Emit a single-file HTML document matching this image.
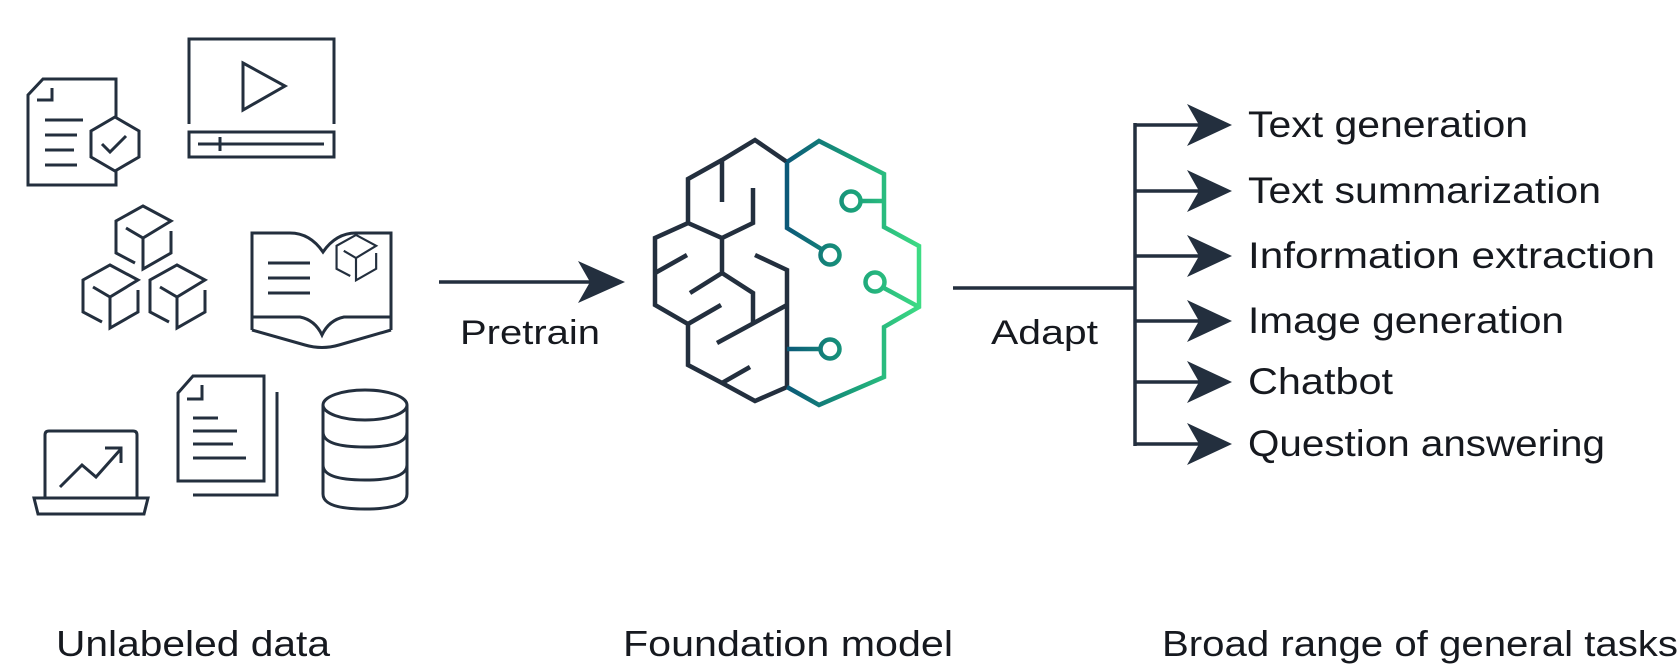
<!DOCTYPE html>
<html><head><meta charset="utf-8"><style>
html,body{margin:0;padding:0;background:#fff;width:1680px;height:668px;overflow:hidden}
svg{display:block}
text{font-family:"Liberation Sans",sans-serif;fill:#16191f}
</style></head><body>
<svg width="1680" height="668" viewBox="0 0 1680 668" xmlns="http://www.w3.org/2000/svg">
<defs>
<linearGradient id="g" gradientUnits="userSpaceOnUse" x1="787" y1="0" x2="920" y2="0">
<stop offset="0" stop-color="#0b5878"/><stop offset="0.5" stop-color="#1aa07a"/><stop offset="1" stop-color="#3ddc84"/>
</linearGradient>
<g id="cube" fill="none" stroke="#232f3e" stroke-width="3" stroke-linejoin="miter">
<path d="M-17,-10 L0,0 L28,-17 L0,-32 L-27,-17 L-27,15 L-8,25"/>
<path d="M0,0 L0,31 L28,15 L28,-7"/>
</g>
</defs>

<!-- Icons -->
<g fill="none" stroke="#232f3e" stroke-width="3">
  <path d="M116,117 L116,79 L43,79 L28,95 L28,185 L116,185 L116,171"/>
  <path d="M37,100 L52,100 L52,88"/>
  <path d="M45,120 H83 M45,135 H77 M45,150 H74 M45,165 H77"/>
  <polygon points="115,117 139,131 139,157 115,171 91,157 91,131"/>
  <path d="M102,144 L110,152 L126,136"/>
  <path d="M189,124 V39 H334 V124"/>
  <rect x="189" y="132" width="145" height="25"/>
  <path d="M198,144 H324 M220,137 V151"/>
  <polygon points="243,63 285,86 243,110"/>
  <path d="M252,330 V233 H290 Q310,233 323,252 Q336,233 356,233 H391 V330"/>
  <path d="M252,317 H300 Q315,320 322,335 Q329,320 344,317 H391"/>
  <path d="M252,330 L305,345 Q322,350 339,345 L391,330"/>
  <path d="M268,263 H310 M268,278 H310 M268,293 H310"/>
  <path d="M45,498 V435 Q45,431 49,431 H133 Q137,431 137,435 V498"/>
  <path d="M34,498 H148 L144,514 H38 Z"/>
  <path d="M60,487 L82,465 L96,477 L120,450 M105,448 H121 V463"/>
  <path d="M178,393 L193,376 H264 V481 H178 Z"/>
  <path d="M187,399 H202 V385"/>
  <path d="M277,392 V495 H193"/>
  <path d="M193,418 H218 M193,431 H237 M193,444 H233 M193,458 H246"/>
  <ellipse cx="365" cy="405" rx="42" ry="15"/>
  <path d="M323,405 V494 Q323,509 365,509 Q407,509 407,494 V405"/>
  <path d="M323,432 Q323,447 365,447 Q407,447 407,432"/>
  <path d="M323,465 Q323,480 365,480 Q407,480 407,465"/>
</g>
<use href="#cube" x="143" y="238"/>
<use href="#cube" x="110" y="297"/>
<use href="#cube" x="177" y="297"/>
<g transform="translate(356,258) scale(0.72)"><use href="#cube"/></g>

<line x1="439" y1="282" x2="590" y2="282" stroke="#232f3e" stroke-width="3.5"/>
<polygon points="578,261 625,282 578,303 590,282" fill="#232f3e"/>
<text x="460" y="344" font-size="34" textLength="140" lengthAdjust="spacingAndGlyphs">Pretrain</text>

<g fill="none" stroke="#232f3e" stroke-width="4.5" stroke-linejoin="miter">
  <path d="M787,162 L755,140 L722,160 L688,179 L688,223 L655,238 L655,305 L688,324 L688,365 L722,383 L755,401 L787,387 V270 L755,255"/>
  <path d="M722,160 V202"/>
  <path d="M753,188 V223 L722,238 L688,223"/>
  <path d="M722,238 V273 L690,293"/>
  <path d="M722,273 L753,293 V322"/>
  <path d="M787,305 L717,343"/>
  <path d="M655,273 L687,255"/>
  <path d="M688,324 L721,305"/>
  <path d="M722,383 L750,367"/>
</g>
<g fill="none" stroke="url(#g)" stroke-width="4.5">
  <path d="M787,162 L819,141 L884,174 V227 L919,246 V307 L884,327 V377 L819,405 L787,387"/>
  <path d="M787,162 V228 L823,250"/>
  <circle cx="830" cy="255" r="9.5"/>
  <circle cx="851" cy="201" r="9.5"/>
  <path d="M861,201 H884"/>
  <circle cx="875" cy="282" r="9.5"/>
  <path d="M884,288 L919,307"/>
  <circle cx="830" cy="349" r="9.5"/>
  <path d="M787,349 H820"/>
</g>

<line x1="953" y1="288" x2="1135" y2="288" stroke="#232f3e" stroke-width="3.5"/>
<text x="991" y="344" font-size="34" textLength="107" lengthAdjust="spacingAndGlyphs">Adapt</text>
<g stroke="#232f3e" stroke-width="3.5" fill="none">
  <line x1="1135" y1="123" x2="1135" y2="446"/>
  <path d="M1135,125 H1200 M1135,191 H1200 M1135,256 H1200 M1135,321 H1200 M1135,382 H1200 M1135,444 H1200"/>
</g>
<g fill="#232f3e">
  <polygon points="1187,104 1232,125 1187,146 1199,125"/>
  <polygon points="1187,170 1232,191 1187,212 1199,191"/>
  <polygon points="1187,235 1232,256 1187,277 1199,256"/>
  <polygon points="1187,300 1232,321 1187,342 1199,321"/>
  <polygon points="1187,361 1232,382 1187,403 1199,382"/>
  <polygon points="1187,423 1232,444 1187,465 1199,444"/>
</g>
<g font-size="37">
  <text x="1248" y="137" textLength="280" lengthAdjust="spacingAndGlyphs">Text generation</text>
  <text x="1248" y="203" textLength="353" lengthAdjust="spacingAndGlyphs">Text summarization</text>
  <text x="1248" y="268" textLength="407" lengthAdjust="spacingAndGlyphs">Information extraction</text>
  <text x="1248" y="333" textLength="316" lengthAdjust="spacingAndGlyphs">Image generation</text>
  <text x="1248" y="394" textLength="145" lengthAdjust="spacingAndGlyphs">Chatbot</text>
  <text x="1248" y="456" textLength="357" lengthAdjust="spacingAndGlyphs">Question answering</text>
</g>

<g font-size="36">
  <text x="56" y="656" textLength="274" lengthAdjust="spacingAndGlyphs">Unlabeled data</text>
  <text x="623" y="656" textLength="330" lengthAdjust="spacingAndGlyphs">Foundation model</text>
  <text x="1162" y="656" textLength="516" lengthAdjust="spacingAndGlyphs">Broad range of general tasks</text>
</g>
</svg>
</body></html>
